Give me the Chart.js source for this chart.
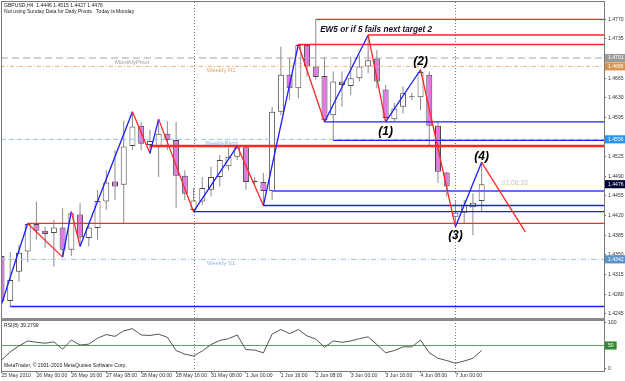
<!DOCTYPE html>
<html>
<head>
<meta charset="utf-8">
<title>GBPUSD H4</title>
<script src="https://cdn.jsdelivr.net/npm/chart.js@4.4.1/dist/chart.umd.min.js"></script>
<style>
  html, body { margin: 0; padding: 0; background: #fff; }
  canvas { display: block; }
</style>
</head>
<body>
<canvas id="chart" width="625" height="381"></canvas>
<script>
// time axis: one label every 4 H4 bars, bar 0 = 25 May 2010 08:00
const timeLabels = ['25 May 2010', '26 May 00:00', '26 May 16:00', '27 May 08:00', '28 May 00:00',
  '28 May 16:00', '31 May 08:00', '1 Jun 00:00', '1 Jun 16:00', '2 Jun 08:00', '3 Jun 00:00',
  '3 Jun 16:00', '4 Jun 08:00', '7 Jun 00:00'];
const labelStep = 4;

// candles
const opens = [1.4348, 1.4268, 1.4320, 1.4356, 1.4405, 1.4393, 1.4389, 1.4399, 1.4359, 1.4422,
  1.4380, 1.4398, 1.4445, 1.4481, 1.4475, 1.4544, 1.4580, 1.4546, 1.4542, 1.4566,
  1.4555, 1.4491, 1.4430, 1.4445, 1.4466, 1.4489, 1.4508, 1.4525, 1.4542, 1.4482,
  1.4480, 1.4464, 1.4605, 1.4671, 1.4647, 1.4724, 1.4686, 1.4669, 1.4599, 1.4659,
  1.4651, 1.4665, 1.4686, 1.4700, 1.4645, 1.4592, 1.4614, 1.4633, 1.4631, 1.4671,
  1.4580, 1.4497, 1.4418, 1.4425, 1.4435, 1.4446];
const highs = [1.4359, 1.4355, 1.4368, 1.4406, 1.4445, 1.4400, 1.4412, 1.4433, 1.4427, 1.4442,
  1.4403, 1.4466, 1.4501, 1.4537, 1.4589, 1.4605, 1.4587, 1.4573, 1.4592, 1.4588,
  1.4587, 1.4501, 1.4469, 1.4489, 1.4507, 1.4528, 1.4541, 1.4544, 1.4546, 1.4489,
  1.4496, 1.4614, 1.4721, 1.4701, 1.4725, 1.4724, 1.4770, 1.4703, 1.4677, 1.4677,
  1.4703, 1.4706, 1.4742, 1.4715, 1.4653, 1.4621, 1.4650, 1.4639, 1.4680, 1.4677,
  1.4587, 1.4498, 1.4445, 1.4448, 1.4460, 1.4515];
const lows = [1.4262, 1.4258, 1.4302, 1.4337, 1.4377, 1.4362, 1.4329, 1.4346, 1.4348, 1.4365,
  1.4365, 1.4377, 1.4430, 1.4448, 1.4406, 1.4537, 1.4537, 1.4531, 1.4489, 1.4537,
  1.4434, 1.4448, 1.4427, 1.4439, 1.4454, 1.4472, 1.4501, 1.4519, 1.4466, 1.4475,
  1.4438, 1.4448, 1.4599, 1.4626, 1.4629, 1.4668, 1.4662, 1.4587, 1.4554, 1.4614,
  1.4635, 1.4659, 1.4674, 1.4647, 1.4587, 1.4588, 1.4602, 1.4626, 1.4608, 1.4543,
  1.4478, 1.4454, 1.4400, 1.4406, 1.4385, 1.4427];
const closes = [1.4268, 1.4305, 1.4354, 1.4405, 1.4393, 1.4387, 1.4399, 1.4359, 1.4424, 1.4381,
  1.4399, 1.4446, 1.4479, 1.4472, 1.4543, 1.4579, 1.4548, 1.4553, 1.4566, 1.4555,
  1.4491, 1.4459, 1.4447, 1.4469, 1.4489, 1.4519, 1.4525, 1.4542, 1.4480, 1.4480,
  1.4464, 1.4605, 1.4671, 1.4647, 1.4724, 1.4686, 1.4667, 1.4590, 1.4659, 1.4653,
  1.4665, 1.4686, 1.4697, 1.4659, 1.4594, 1.4611, 1.4638, 1.4631, 1.4676, 1.4580,
  1.4498, 1.4472, 1.4425, 1.4439, 1.4443, 1.4476];

// RSI(8)
const rsiValues = [18, 36, 49, 60, 57, 55, 58, 42, 62, 51,
  53, 66, 74, 70, 82, 87, 73, 72, 75, 68,
  39, 31, 27, 38, 52, 61, 65, 73, 41, 40,
  34, 75, 85, 76, 85, 71, 64, 46, 60, 57,
  60, 65, 69, 52, 34, 39, 47, 47, 62, 34,
  22, 17, 11, 16, 22, 39.2799];
const rsiTicks = [100, 50, 0];
const rsiLevel = 50;

// zigzag turning points (last one is the projected leg)
const zigzagBars = [0, 3, 7, 8, 9, 15, 17, 18, 22, 27, 30, 34, 37, 42, 44, 48, 52, 55, 60];
const zigzagPrices = [1.4262, 1.4406, 1.4346, 1.4427, 1.4365, 1.4605, 1.4531, 1.4592, 1.4427, 1.4544,
  1.4438, 1.4725, 1.4587, 1.4742, 1.4587, 1.4680, 1.4400, 1.4515, 1.4391];

// horizontal rays drawn on the chart
const redRayPrices = [1.4770, 1.4742, 1.4725, 1.4545, 1.4543, 1.4406];
const redRayFrom = [36, 42, 34, 17, 17, 3];
const blueRayPrices = [1.4587, 1.4554, 1.4438, 1.4427, 1.4258];
const blueRayFrom = [37, 38, 30, 22, 1];
const lightRayPrices = [1.4464];
const lightRayFrom = [31];

// pivot levels
const pivotNames = ['MonthlyPivot', 'Weekly R1', 'WeeklyPivot', 'Weekly S1'];
const pivotPrices = [1.4701, 1.4686, 1.4556, 1.4342];
const pivotNameBars = [13, 23.5, 23.3, 23.5];

// arrows
const sellArrowBars = [20, 49];
const sellArrowPrices = [1.4616, 1.4720];
const buyArrowBars = [11, 31];
const buyArrowPrices = [1.4336, 1.4403];

// text notes
const noteTexts = ['EW5 or if 5 fails next target 2', '(1)', '(2)', '(3)', '(4)', '01:06:33'];
const noteBars = [36.5, 44, 48, 52, 55, 57.3];
const notePrices = [1.4752, 1.4570, 1.4694, 1.4384, 1.4525, 1.4478];

// price axis
const priceTicks = [1.4770, 1.4735, 1.4665, 1.4630, 1.4595, 1.4525, 1.4490, 1.4455,
  1.4420, 1.4385, 1.4350, 1.4315, 1.4280, 1.4245];
const separatorBars = [22, 52];

const last = opens.length - 1;
const headerLines = [
  `GBPUSD,H4  ${opens[last].toFixed(4)} ${highs[last].toFixed(4)} ${lows[last].toFixed(4)} ${closes[last].toFixed(4)}`,
  'Not using Sunday Data for Daily Pivots.  Today is Monday'
];
const rsiTitle = `RSI(8) ${rsiValues[last].toFixed(4)}`;
const footer = 'MetaTrader, \u00a9 2001-2010 MetaQuotes Software Corp.';

// ---- styles ----
const FONT = '"Liberation Sans", Arial, sans-serif';
const X_MIN = -0.057, X_MAX = 69.015;
const bullFill = '#ffffff', bearFill = '#e07ae0', candleEdge = '#4a4a4a', wickColor = '#8a8a8a';
const RED = '#ff2828', BLUE = '#1c1cff', LIGHTBLUE = '#6a6aff';
const pivotStyles = [
  { color: '#a4a4a4', dash: [7, 4], text: '#a0a0a0', box: '#9a9a9a' },
  { color: '#f0b27a', dash: [4, 2, 1, 2], text: '#e2a066', box: '#d8934e' },
  { color: '#8cc4f4', dash: [5, 3], text: '#84b6ea', box: '#2c93e8' },
  { color: '#a0c2ea', dash: [5, 2, 1, 2], text: '#94b6de', box: '#5b93c8' }
];
const noteStyles = [
  { font: `italic bold 8.2px ${FONT}`, color: '#10102a', align: 'left' },
  { font: `italic bold 12px ${FONT}`, color: '#000', align: 'center' },
  { font: `italic bold 12px ${FONT}`, color: '#000', align: 'center' },
  { font: `italic bold 12px ${FONT}`, color: '#000', align: 'center' },
  { font: `italic bold 12px ${FONT}`, color: '#000', align: 'center' },
  { font: `6.7px ${FONT}`, color: '#c4c4c4', align: 'left' }
];

const boxedPrices = pivotPrices.concat([closes[last]]);
const boxedColors = pivotStyles.map(s => s.box).concat(['#000030']);
function boxIndex(v) {
  return boxedPrices.findIndex(p => Math.abs(p - v) < 1e-9);
}

function makeArrow(color, up) {
  const w = 13, h = 16;
  const c = document.createElement('canvas');
  c.width = w; c.height = h;
  const g = c.getContext('2d');
  const shape = [[6.5, 1], [12, 7.5], [9, 7.5], [9, 15], [4, 15], [4, 7.5], [1, 7.5]];
  g.beginPath();
  shape.forEach(([px, py], k) => {
    const yy = up ? py : h - py;
    if (k) g.lineTo(px, yy); else g.moveTo(px, yy);
  });
  g.closePath();
  g.fillStyle = '#fff';
  g.fill();
  g.strokeStyle = color;
  g.lineWidth = 1.5;
  g.stroke();
  return c;
}

function ray(from, price) {
  return [{ x: from, y: price }, { x: X_MAX, y: price }];
}

const datasets = [];

// candles: wicks first, bodies above
datasets.push({
  type: 'bar', label: 'wicks', order: 20, grouped: false, barThickness: 1,
  backgroundColor: wickColor, borderWidth: 0, inflateAmount: 0,
  data: opens.map((o, i) => ({ x: i, y: [lows[i], highs[i]] }))
});
datasets.push({
  type: 'bar', label: 'bodies', order: 19, grouped: false, barThickness: 6, minBarLength: 1,
  backgroundColor: opens.map((o, i) => closes[i] >= o ? bullFill : bearFill),
  borderColor: candleEdge, borderWidth: 1, borderSkipped: false, inflateAmount: 0,
  data: opens.map((o, i) => ({ x: i, y: [o, closes[i]] }))
});

pivotPrices.forEach((p, k) => datasets.push({
  type: 'line', order: 15, borderColor: pivotStyles[k].color, borderWidth: 1,
  borderDash: pivotStyles[k].dash, data: ray(X_MIN, p)
}));
redRayPrices.forEach((p, k) => datasets.push({
  type: 'line', order: 14, borderColor: RED, borderWidth: 1.3, data: ray(redRayFrom[k], p)
}));
blueRayPrices.forEach((p, k) => datasets.push({
  type: 'line', order: 14, borderColor: BLUE, borderWidth: 1.3, data: ray(blueRayFrom[k], p)
}));
lightRayPrices.forEach((p, k) => datasets.push({
  type: 'line', order: 14, borderColor: LIGHTBLUE, borderWidth: 2, data: ray(lightRayFrom[k], p)
}));

datasets.push({
  type: 'line', order: 5, borderWidth: 1.3,
  segment: { borderColor: ctx => ctx.p1.parsed.y > ctx.p0.parsed.y ? BLUE : RED },
  data: zigzagBars.map((b, k) => ({ x: b, y: zigzagPrices[k] }))
});

datasets.push({
  type: 'scatter', order: 4, pointStyle: makeArrow('#ff3030', false),
  data: sellArrowBars.map((b, k) => ({ x: b, y: sellArrowPrices[k] }))
});
datasets.push({
  type: 'scatter', order: 4, pointStyle: makeArrow('#2a2aff', true),
  data: buyArrowBars.map((b, k) => ({ x: b, y: buyArrowPrices[k] }))
});

// RSI pane
datasets.push({
  type: 'line', order: 3, yAxisID: 'rsi', borderColor: '#5fa05f', borderWidth: 1,
  data: ray(X_MIN, rsiLevel)
});
datasets.push({
  type: 'line', order: 2, yAxisID: 'rsi', borderColor: '#555', borderWidth: 1,
  data: rsiValues.map((v, i) => ({ x: i, y: v }))
});

const overlay = {
  id: 'overlay',
  beforeDatasetsDraw(chart) {
    const { ctx, chartArea: a, scales: { x } } = chart;
    ctx.save();
    ctx.strokeStyle = '#777';
    ctx.lineWidth = 1;
    ctx.setLineDash([1, 2]);
    separatorBars.forEach(b => {
      const px = Math.round(x.getPixelForValue(b)) + 0.5;
      ctx.beginPath();
      ctx.moveTo(px, a.top);
      ctx.lineTo(px, a.bottom + 3);
      ctx.stroke();
    });
    ctx.restore();
  },
  afterDatasetsDraw(chart) {
    const { ctx, chartArea: a, scales: { x, y } } = chart;
    ctx.save();
    ctx.textAlign = 'left';
    ctx.textBaseline = 'top';
    ctx.font = `6px ${FONT}`;
    pivotNames.forEach((n, k) => {
      ctx.fillStyle = pivotStyles[k].text;
      ctx.fillText(n, x.getPixelForValue(pivotNameBars[k]), y.getPixelForValue(pivotPrices[k]) + 1);
    });
    ctx.textBaseline = 'middle';
    noteTexts.forEach((t, k) => {
      const s = noteStyles[k];
      ctx.font = s.font;
      ctx.fillStyle = s.color;
      ctx.textAlign = s.align;
      ctx.fillText(t, x.getPixelForValue(noteBars[k]), y.getPixelForValue(notePrices[k]));
    });

    ctx.textAlign = 'left';
    ctx.fillStyle = '#222';
    ctx.font = `5.1px ${FONT}`;
    ctx.fillText(headerLines[0], a.left + 3, a.top + 3.5);
    ctx.fillText(headerLines[1], a.left + 3, a.top + 9.5);
    ctx.fillText(rsiTitle, a.left + 3, y.bottom + 6);
    ctx.fillText(footer, a.left + 3, a.bottom - 5);

    // frame and pane separator
    ctx.strokeStyle = '#7a7a7a';
    ctx.lineWidth = 1;
    ctx.strokeRect(a.left + 0.5, a.top - 0.5, a.right - a.left, a.bottom - a.top + 1);
    ctx.fillStyle = '#8a8a8a';
    ctx.fillRect(a.left, y.bottom - 1.5, a.right - a.left + 1, 3);
    ctx.restore();
  }
};

const axisFont = { family: FONT, size: 5.1 };

new Chart(document.getElementById('chart'), {
  type: 'line',
  data: { datasets },
  options: {
    responsive: false,
    animation: false,
    devicePixelRatio: 1,
    events: [],
    layout: { padding: { left: 1, top: 2, right: 0, bottom: 0 } },
    elements: { point: { radius: 0 }, line: { tension: 0, fill: false } },
    plugins: { legend: { display: false }, tooltip: { enabled: false } },
    scales: {
      x: {
        type: 'linear', min: X_MIN, max: X_MAX, offset: false, bounds: 'data',
        grid: { display: true, drawOnChartArea: false, drawTicks: true, tickLength: 2, color: '#666', offset: false },
        border: { display: false },
        ticks: {
          autoSkip: false, maxRotation: 0, minRotation: 0, align: 'start', padding: 0,
          color: '#333', font: axisFont,
          callback: v => timeLabels[Math.round(v / labelStep)]
        },
        afterBuildTicks: s => { s.ticks = timeLabels.map((t, k) => ({ value: k * labelStep })); },
        afterFit: s => { s.height = 10; s.paddingLeft = 0; s.paddingRight = 0; }
      },
      y: {
        type: 'linear', position: 'right', stack: 'panes', stackWeight: 317.5,
        min: 1.42348, max: 1.48008, bounds: 'data', beginAtZero: false, offset: false,
        grid: {
          drawOnChartArea: false, drawTicks: true, tickLength: 2, color: '#666',
          tickColor: ctx => boxIndex(ctx.tick.value) >= 0 ? 'rgba(0,0,0,0)' : '#666'
        },
        border: { display: false },
        ticks: {
          autoSkip: false, padding: 2, font: axisFont,
          color: ctx => boxIndex(ctx.tick.value) >= 0 ? '#fff' : '#333',
          showLabelBackdrop: ctx => boxIndex(ctx.tick.value) >= 0,
          backdropColor: ctx => boxedColors[boxIndex(ctx.tick.value)] || 'rgba(0,0,0,0)',
          backdropPadding: { left: 3, right: 3, top: 1, bottom: 1 },
          callback: v => v.toFixed(4)
        },
        afterBuildTicks: s => { s.ticks = priceTicks.concat(boxedPrices).map(v => ({ value: v })); },
        afterFit: s => { s.width = 21; s.paddingTop = 0; s.paddingBottom = 0; }
      },
      rsi: {
        type: 'linear', position: 'right', stack: 'panes', stackWeight: 51.5,
        min: -5.9, max: 107, bounds: 'data', beginAtZero: false, offset: false,
        grid: {
          drawOnChartArea: false, drawTicks: true, tickLength: 2, color: '#666',
          tickColor: ctx => ctx.tick.value === rsiLevel ? 'rgba(0,0,0,0)' : '#666'
        },
        border: { display: false },
        ticks: {
          autoSkip: false, padding: 2, font: axisFont,
          color: ctx => ctx.tick.value === rsiLevel ? '#fff' : '#333',
          showLabelBackdrop: ctx => ctx.tick.value === rsiLevel,
          backdropColor: '#2e8b2e',
          backdropPadding: { left: 3, right: 3, top: 1, bottom: 1 },
          callback: v => String(v)
        },
        afterBuildTicks: s => { s.ticks = rsiTicks.map(v => ({ value: v })); },
        afterFit: s => { s.width = 21; s.paddingTop = 0; s.paddingBottom = 0; }
      }
    }
  },
  plugins: [overlay]
});
</script>
</body>
</html>
